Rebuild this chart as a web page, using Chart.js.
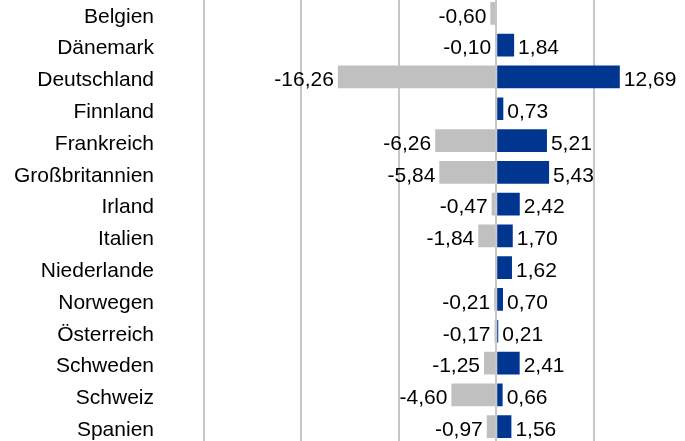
<!DOCTYPE html>
<html>
<head>
<meta charset="utf-8">
<script src="https://cdn.jsdelivr.net/npm/chart.js@4/dist/chart.umd.min.js"></script>
<style>
    html, body { margin: 0; padding: 0; background: #fff; overflow: hidden; }
    #wrap { position: relative; width: 685px; height: 441px; overflow: hidden; }
    #chart { position: absolute; left: -1px; top: -13.5px; }
</style>
</head>
<body>
<div id="wrap"><canvas id="chart" width="692" height="466"></canvas></div>
<script>
const countries = ['Belgien', 'Dänemark', 'Deutschland', 'Finnland', 'Frankreich', 'Großbritannien', 'Irland',
    'Italien', 'Niederlande', 'Norwegen', 'Österreich', 'Schweden', 'Schweiz', 'Spanien'];
const negativeValues = [-0.60, -0.10, -16.26, null, -6.26, -5.84, -0.47, -1.84, null, -0.21, -0.17, -1.25, -4.60, -0.97];
const positiveValues = [null, 1.84, 12.69, 0.73, 5.21, 5.43, 2.42, 1.70, 1.62, 0.70, 0.21, 2.41, 0.66, 1.56];
const axisMin = -30;
const axisMax = 20;
const axisStep = 10;

const chart = document.getElementById('chart');
const fontFamily = '"Liberation Sans", Arial, sans-serif';
const fontSize = 21;
const textDrop = 3.5; // text sits a bit below the bar centre in the original

// draws the value next to the end of each bar, german decimal comma
const valueLabels = {
    id: 'valueLabels',
    afterDatasetsDraw(c) {
        const ctx = c.ctx;
        ctx.save();
        ctx.font = fontSize + 'px ' + fontFamily;
        ctx.fillStyle = '#000';
        ctx.textBaseline = 'middle';
        c.data.datasets.forEach((ds, di) => {
            c.getDatasetMeta(di).data.forEach((bar, i) => {
                const v = ds.data[i];
                if (v === null) return;
                const text = v.toFixed(2).replace('.', ',');
                if (v < 0) {
                    ctx.textAlign = 'right';
                    ctx.fillText(text, bar.x - 4, bar.y + textDrop);
                } else {
                    ctx.textAlign = 'left';
                    ctx.fillText(text, bar.x + 4, bar.y + textDrop);
                }
            });
        });
        ctx.restore();
    }
};

new Chart(chart, {
    type: 'bar',
    data: {
        labels: countries,
        datasets: [{
            data: negativeValues,
            backgroundColor: '#c0c0c0',
            categoryPercentage: 1,
            barPercentage: 0.715
        }, {
            data: positiveValues,
            backgroundColor: '#00368f',
            categoryPercentage: 1,
            barPercentage: 0.715
        }]
    },
    options: {
        indexAxis: 'y',
        responsive: false,
        animation: false,
        layout: { padding: 0 },
        plugins: {
            legend: { display: false },
            tooltip: { enabled: false }
        },
        scales: {
            x: {
                stacked: true,
                min: axisMin,
                max: axisMax,
                ticks: { display: false, stepSize: axisStep },
                grid: { color: '#c8c8c8', lineWidth: 2, drawTicks: false },
                border: { display: false }
            },
            y: {
                stacked: true,
                ticks: {
                    color: '#000',
                    padding: 0,
                    labelOffset: textDrop,
                    font: { family: fontFamily, size: fontSize, lineHeight: 1 }
                },
                // invisible tick marks push the labels away from the plot
                grid: { color: 'transparent', drawTicks: true, tickLength: 50 },
                border: { display: false },
                afterFit(scale) {
                    scale.width = 205;
                }
            }
        }
    },
    plugins: [valueLabels]
});
</script>
</body>
</html>
